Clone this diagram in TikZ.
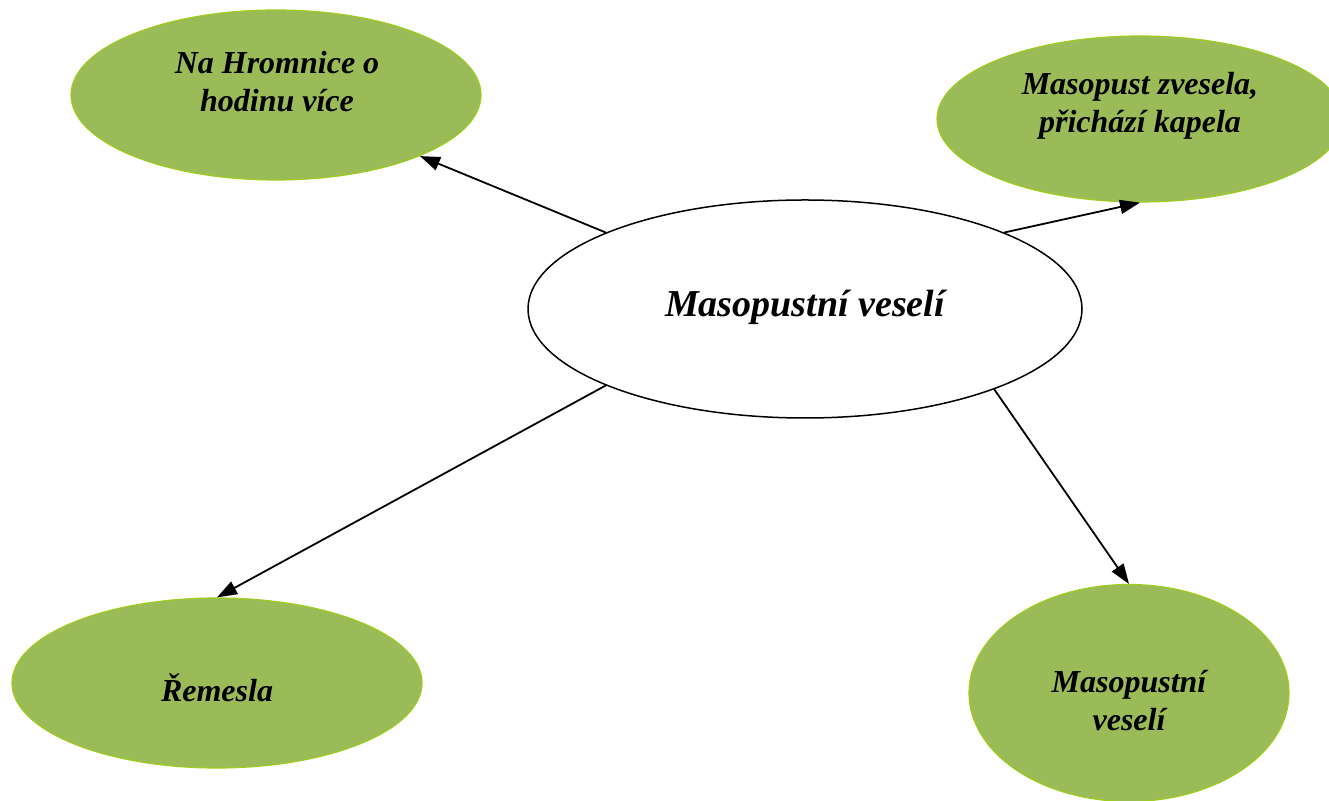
\documentclass[tikz,border=0pt]{standalone}
\usepackage{fontspec}
\setmainfont{Liberation Serif}
\usetikzlibrary{shapes.geometric,arrows.meta}
\definecolor{gfill}{HTML}{9BBB59}
\definecolor{gborder}{HTML}{9FCC1F}
\tikzset{
  gell/.style={ellipse, fill=gfill, draw=gborder, line width=1.2pt, inner sep=0pt},
  lbl/.style={align=center, font=\fontsize{32}{38}\selectfont\bfseries\itshape, inner sep=0pt},
  conn/.style={line width=1.8pt, -{Triangle[length=20pt,width=14pt]}}
}
\begin{document}
\begin{tikzpicture}[x=1pt,y=1pt]
\clip (0,0) rectangle (1329,800);
\fill[white] (0,0) rectangle (1329,800);
\node[gell, minimum width=410pt, minimum height=170pt] (tl) at (276,705) {};
\node[gell, minimum width=406pt, minimum height=166pt] (tr) at (1140,681) {};
\node[gell, minimum width=410pt, minimum height=170pt] (bl) at (217,117) {};
\node[gell, minimum width=320pt, minimum height=217pt] (br) at (1129,107) {};
\node[ellipse, draw=black, fill=white, line width=1.5pt, minimum width=554pt, minimum height=218pt, inner sep=0pt] (c) at (805,491) {};
\node[lbl] (tlt) at (277,718) {Na Hromnice o\\hodinu více};
\node[lbl] (trt) at (1140,694) {Masopust zvesela,\\přichází kapela};
\node[lbl] (blt) at (217,112) {Řemesla};
\node[lbl] (brt) at (1129,99) {Masopustní\\veselí};
\node[lbl, font=\fontsize{38}{44}\selectfont\bfseries\itshape] (ct) at (805,493) {Masopustní veselí};
\draw[conn] (c.159.4) -- (tl.337.5);
\draw[conn] (c.21) -- (tr.south);
\draw[conn] (c.201.9) -- (bl.north);
\draw[conn] (c.337.5) -- (br.north);
\end{tikzpicture}
\end{document}
